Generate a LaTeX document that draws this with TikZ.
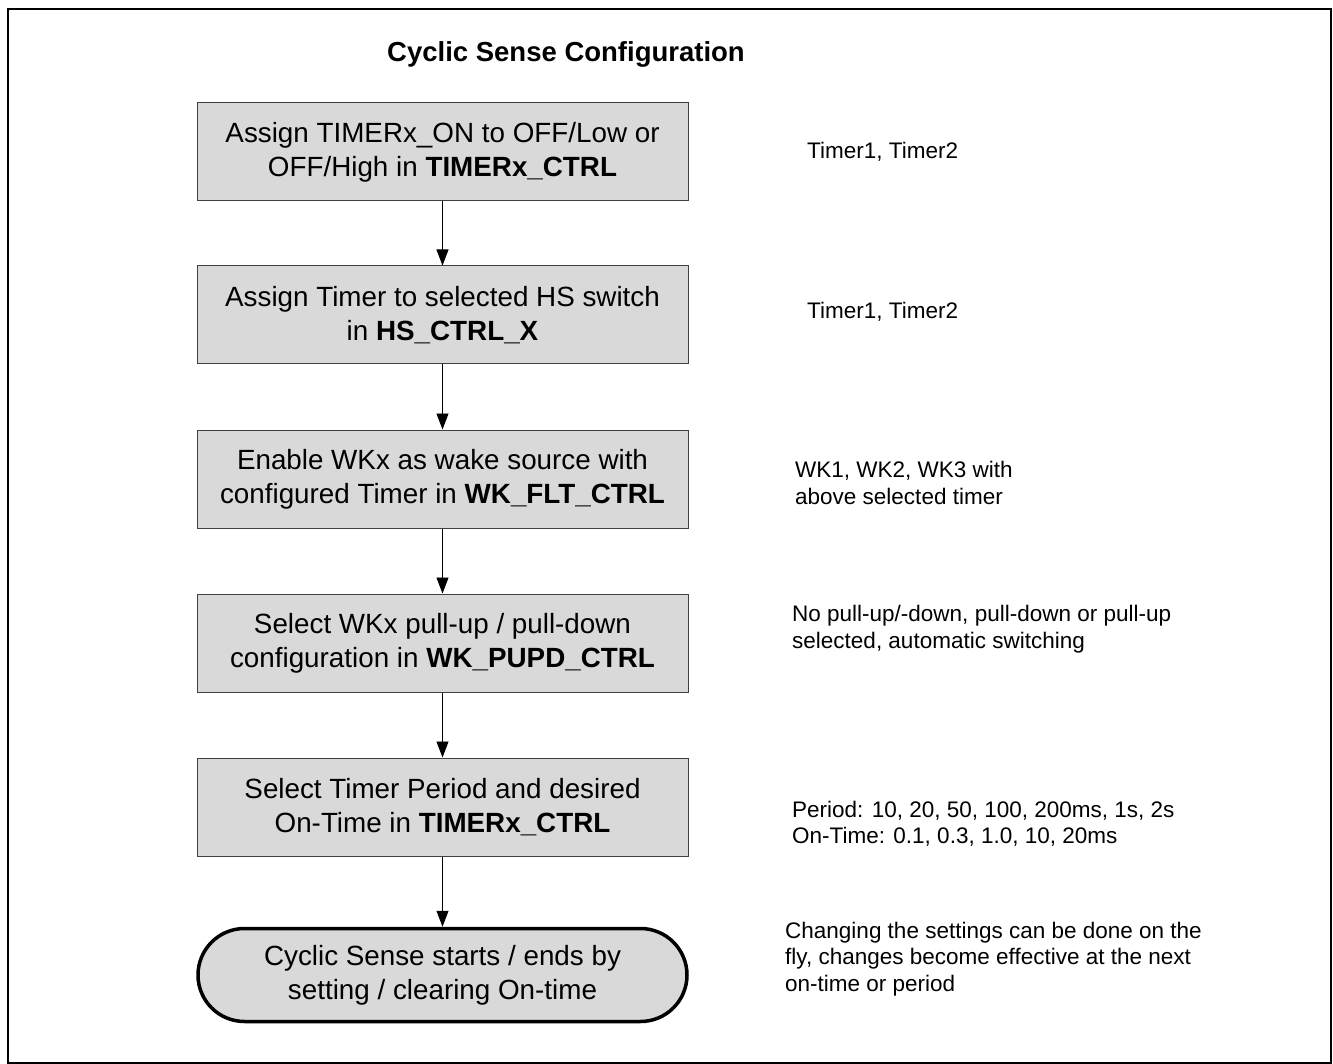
\documentclass[tikz,border=0pt]{standalone}
\usepackage{fontspec}
\setmainfont{Liberation Sans}
\usetikzlibrary{arrows.meta,shapes.misc}
\definecolor{boxgray}{HTML}{D9D9D9}
\begin{document}
\begin{tikzpicture}[x=1pt,y=-1pt,
  stepbox/.style={draw=black!75,line width=1pt,fill=boxgray,minimum width=491pt,minimum height=98pt,
    inner sep=0pt,align=center,font=\fontsize{27.8}{34}\selectfont},
  endbox/.style={rounded rectangle,draw=black,line width=3.5pt,fill=boxgray,minimum width=489pt,
    minimum height=93pt,inner sep=0pt,align=center,font=\fontsize{27.8}{34}\selectfont},
  note/.style={anchor=west,align=left,inner sep=0pt,font=\fontsize{22.5}{26.5}\selectfont},
  flow/.style={-{Triangle[width=12pt,length=16pt]},line width=0.8pt}]
  \useasboundingbox (0,0) rectangle (1333,1064);
  \draw[line width=1.5pt] (8,9) rectangle (1331,1063);
  \node[font=\fontsize{27.5}{32}\selectfont\bfseries] (title) at (566,54) {Cyclic Sense Configuration};
  % flow steps
  \node[stepbox] (timeron) at (442.5,152) {Assign TIMERx\_ON to OFF/Low or\\OFF/High in \textbf{TIMERx\_CTRL}};
  \node[stepbox] (hsctrl) at (442.5,315) {Assign Timer to selected HS switch\\in \textbf{HS\_CTRL\_X}};
  \node[stepbox] (wkflt) at (442.5,479) {Enable WKx as wake source with\\configured Timer in \textbf{WK\_FLT\_CTRL}};
  \node[stepbox] (wkpupd) at (442.5,643) {Select WKx pull-up / pull-down\\configuration in \textbf{WK\_PUPD\_CTRL}};
  \node[stepbox] (period) at (442.5,807) {Select Timer Period and desired\\On-Time in \textbf{TIMERx\_CTRL}};
  \node[endbox] (cycstart) at (442.5,975) {Cyclic Sense starts / ends by\\setting / clearing On-time};
  \draw[flow] (timeron) -- (hsctrl);
  \draw[flow] (hsctrl) -- (wkflt);
  \draw[flow] (wkflt) -- (wkpupd);
  \draw[flow] (wkpupd) -- (period);
  \draw[flow] (period) -- (cycstart);
  % notes
  \node[note] (ntimer1) at (807,152) {Timer1, Timer2};
  \node[note] (ntimer2) at (807,312) {Timer1, Timer2};
  \node[note] (nwk) at (795,483) {WK1, WK2, WK3 with\\above selected timer};
  \node[note] (npupd) at (792,629) {No pull-up/-down, pull-down or pull-up\\selected, automatic switching};
  \node[note] (nperiod) at (792,824) {Period: 10, 20, 50, 100, 200ms, 1s, 2s\\On-Time: 0.1, 0.3, 1.0, 10, 20ms};
  \node[note] (nchange) at (785,959) {Changing the settings can be done on the\\fly, changes become effective at the next\\on-time or period};
\end{tikzpicture}
\end{document}
